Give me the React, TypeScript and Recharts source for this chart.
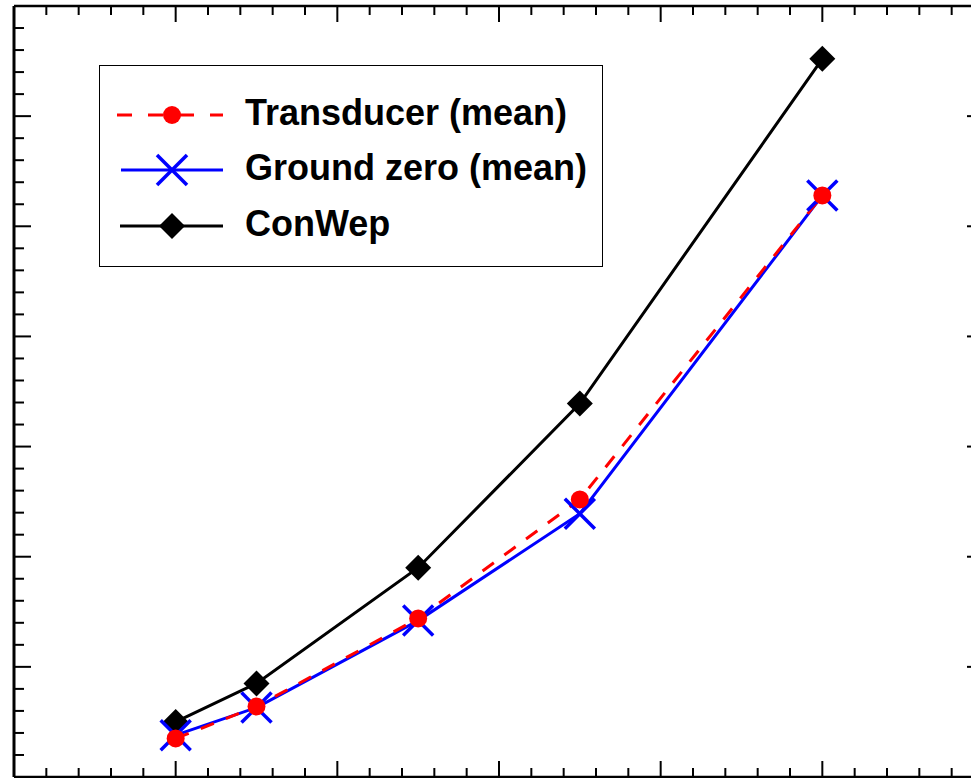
import React from 'react';
import { LineChart, Line, XAxis, YAxis, Legend } from 'recharts';

// x positions of the measurements (axis labels are cropped off in the source)
const xValues = [1, 1.5, 2.5, 3.5, 5];
const transducer = [35, 64, 144, 252, 528];
const groundZero = [38, 63, 142, 239, 528];
const conWep = [50, 85, 190, 339, 652];

const seriesNames = ['Transducer (mean)', 'Ground zero (mean)', 'ConWep'];

const xTicks = Array.from({ length: 31 }, (_, i) => Math.round(i * 2) / 10);
const yTicks = Array.from({ length: 36 }, (_, i) => i * 20);

const data = xValues.map((x, i) => ({
  x,
  transducer: transducer[i],
  ground: groundZero[i],
  conwep: conWep[i],
}));

const MAJOR = 16;
const MINOR = 9;
const isMajorX = (v: number) => Math.abs(v - Math.round(v)) < 1e-6;
const isMajorY = (v: number) => v % 100 === 0;

const BottomTick = (p: any) => {
  const len = isMajorX(p.payload.value) ? MAJOR : MINOR;
  return <line x1={p.x} y1={p.y} x2={p.x} y2={p.y - len} stroke="#000" strokeWidth={2} />;
};
const TopTick = (p: any) => {
  const len = isMajorX(p.payload.value) ? MAJOR : MINOR;
  return <line x1={p.x} y1={p.y} x2={p.x} y2={p.y + len} stroke="#000" strokeWidth={2} />;
};
const LeftTick = (p: any) => {
  const len = isMajorY(p.payload.value) ? MAJOR + 1 : MINOR + 1;
  return <line x1={p.x} y1={p.y} x2={p.x + len} y2={p.y} stroke="#000" strokeWidth={2} />;
};
const RightTick = (p: any) => {
  const len = isMajorY(p.payload.value) ? MAJOR + 1 : MINOR + 1;
  return <line x1={p.x} y1={p.y} x2={p.x - len} y2={p.y} stroke="#000" strokeWidth={2} />;
};

const Circle = (p: any) => (
  <circle key={`c-${p.index}`} cx={p.cx} cy={p.cy} r={9} fill="#ff0000" stroke="none" />
);
const Cross = (p: any) => (
  <g key={`x-${p.index}`} stroke="#0000ff" strokeWidth={3.5}>
    <line x1={p.cx - 15} y1={p.cy - 15} x2={p.cx + 15} y2={p.cy + 15} />
    <line x1={p.cx - 15} y1={p.cy + 15} x2={p.cx + 15} y2={p.cy - 15} />
  </g>
);
const Diamond = (p: any) => (
  <polygon
    key={`d-${p.index}`}
    points={`${p.cx},${p.cy - 13} ${p.cx + 13},${p.cy} ${p.cx},${p.cy + 13} ${p.cx - 13},${p.cy}`}
    fill="#000"
    stroke="none"
  />
);

const renderLegend = () => {
  const rows = [115, 170, 226];
  const font = { fontFamily: 'Liberation Sans, Arial, sans-serif', fontWeight: 700, fontSize: 36 };
  return (
    <div style={{ width: 504, height: 202, border: '1.5px solid #000', boxSizing: 'border-box', background: '#fff' }}>
      <svg width={504} height={202} style={{ display: 'block', marginTop: -1.5, marginLeft: -1.5 }}>
        {/* transducer */}
        <line x1={18} y1={rows[0] - 65} x2={124} y2={rows[0] - 65} stroke="#ff0000" strokeWidth={3} strokeDasharray="15 16" />
        <circle cx={73} cy={rows[0] - 65} r={9} fill="#ff0000" />
        {/* ground zero */}
        <line x1={22} y1={rows[1] - 65} x2={124} y2={rows[1] - 65} stroke="#0000ff" strokeWidth={3} />
        <g stroke="#0000ff" strokeWidth={3.5}>
          <line x1={58} y1={rows[1] - 80} x2={88} y2={rows[1] - 50} />
          <line x1={58} y1={rows[1] - 50} x2={88} y2={rows[1] - 80} />
        </g>
        {/* conwep */}
        <line x1={21} y1={rows[2] - 65} x2={124} y2={rows[2] - 65} stroke="#000" strokeWidth={3} />
        <polygon
          points={`73,${rows[2] - 78} 86,${rows[2] - 65} 73,${rows[2] - 52} 60,${rows[2] - 65}`}
          fill="#000"
        />
        {seriesNames.map((name, i) => (
          <text key={name} x={146} y={rows[i] - 65 + 10} {...font} fill="#000">
            {name}
          </text>
        ))}
      </svg>
    </div>
  );
};

const axisCommon = {
  type: 'number' as const,
  interval: 0,
  tickSize: 0,
  tickMargin: 0,
  tickLine: false,
  allowDataOverflow: true,
};

export default function App() {
  return (
    <div style={{ position: 'absolute', top: 0, left: 0, width: 971, height: 778, overflow: 'hidden', background: '#fff' }}>
      <LineChart
        width={990}
        height={790}
        data={data}
        margin={{ top: 5, right: 5, left: 13, bottom: 12 }}
      >
        <XAxis
          {...axisCommon}
          dataKey="x"
          domain={[0, 6]}
          ticks={xTicks}
          height={1}
          tick={BottomTick}
          axisLine={{ stroke: '#000', strokeWidth: 2.5 }}
        />
        <XAxis
          {...axisCommon}
          xAxisId="top"
          orientation="top"
          dataKey="x"
          domain={[0, 6]}
          ticks={xTicks}
          height={1}
          tick={TopTick}
          axisLine={{ stroke: '#000', strokeWidth: 2.5 }}
        />
        <YAxis
          {...axisCommon}
          domain={[0, 700]}
          ticks={yTicks}
          width={1}
          tick={LeftTick}
          axisLine={{ stroke: '#000', strokeWidth: 3 }}
        />
        <YAxis
          {...axisCommon}
          yAxisId="right"
          orientation="right"
          domain={[0, 700]}
          ticks={yTicks}
          width={1}
          tick={RightTick}
          axisLine={{ stroke: '#000', strokeWidth: 3 }}
        />
        <Legend
          content={renderLegend}
          layout="vertical"
          align="center"
          verticalAlign="middle"
          wrapperStyle={{ top: 65, left: 99, width: 504, height: 202 }}
        />
        <Line
          dataKey="conwep"
          stroke="#000"
          strokeWidth={3}
          dot={Diamond}
          activeDot={false}
          isAnimationActive={false}
        />
        <Line
          dataKey="ground"
          stroke="#0000ff"
          strokeWidth={3}
          dot={Cross}
          activeDot={false}
          isAnimationActive={false}
        />
        <Line
          dataKey="transducer"
          stroke="#ff0000"
          strokeWidth={3}
          strokeDasharray="14 13"
          dot={Circle}
          activeDot={false}
          isAnimationActive={false}
        />
      </LineChart>
    </div>
  );
}
